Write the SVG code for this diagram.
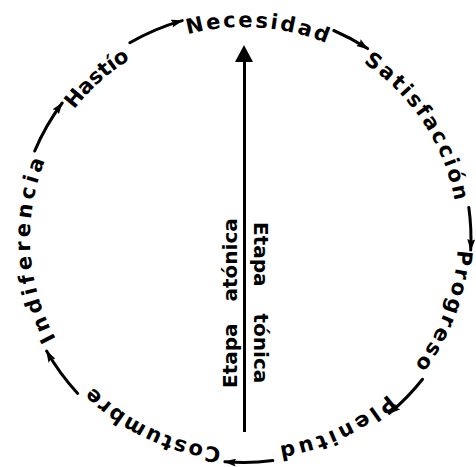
<svg xmlns="http://www.w3.org/2000/svg" width="476" height="467" viewBox="0 0 476 467">
<style>
.lbl{font-family:"DejaVu Sans","Liberation Sans",sans-serif;font-weight:bold;font-size:21px;fill:#000;}
.stage{font-family:"DejaVu Sans","Liberation Sans",sans-serif;font-weight:bold;font-size:20px;fill:#000;}
.arc{fill:none;stroke:#000;stroke-width:3;stroke-linecap:round;}
</style>
<defs>
<path id="ring" d="M 244 449 A 214 211 0 1 1 244 27 A 214 211 0 1 1 244 449"/>
<marker id="ah" viewBox="0 0 12 8" markerWidth="12" markerHeight="8" refX="11" refY="4" orient="auto" markerUnits="userSpaceOnUse">
<path d="M0,0 L12,4 L0,8 L2,4 z" fill="#000"/>
</marker>
</defs>
<rect width="476" height="467" fill="#fff"/>
<g id="connectors">
<path class="arc" marker-end="url(#ah)" d="M 34.7 151.0 A 227 227 0 0 1 62.2 103.0"/>
<path class="arc" marker-end="url(#ah)" d="M 129.8 42.8 A 227 227 0 0 1 182.2 20.6"/>
<path class="arc" marker-end="url(#ah)" d="M 333.8 30.5 A 227 227 0 0 1 367.6 48.6"/>
<path class="arc" marker-end="url(#ah)" d="M 468.8 207.4 A 227 227 0 0 1 470.7 250.1"/>
<path class="arc" marker-end="url(#ah)" d="M 422.5 379.3 A 227 227 0 0 1 389.3 413.4"/>
<path class="arc" marker-end="url(#ah)" d="M 272.8 460.6 A 224 224 0 0 1 224.9 461.7"/>
<path class="arc" marker-end="url(#ah)" d="M 77.7 393.5 A 227 227 0 0 1 46.6 351.1"/>
</g>
<g id="necesidad"><text class="lbl" text-anchor="middle" letter-spacing="2.4"><textPath href="#ring" startOffset="51.11%">Necesidad</textPath></text></g>
<g id="satisfaccion"><text class="lbl" text-anchor="middle" letter-spacing="2.4"><textPath href="#ring" startOffset="65.92%">Satisfacción</textPath></text></g>
<g id="progreso"><text class="lbl" text-anchor="middle" letter-spacing="2.6"><textPath href="#ring" startOffset="80.67%">Progreso</textPath></text></g>
<g id="plenitud"><text class="lbl" text-anchor="middle" letter-spacing="3.3"><textPath href="#ring" startOffset="92.89%">Plenitud</textPath></text></g>
<g id="costumbre"><text class="lbl" text-anchor="middle" letter-spacing="2"><textPath href="#ring" startOffset="7.22%">Costumbre</textPath></text></g>
<g id="indiferencia"><text class="lbl" text-anchor="middle" letter-spacing="3.9"><textPath href="#ring" startOffset="24.17%">Indiferencia</textPath></text></g>
<g id="hastio"><text class="lbl" text-anchor="middle" letter-spacing="0"><textPath href="#ring" startOffset="38.19%">Hastío</textPath></text></g>
<g id="axis">
<line x1="244.5" y1="60" x2="244.5" y2="432" stroke="#000" stroke-width="3"/>
<polygon points="244,45 235,62 253,62" fill="#000"/>
<text class="stage" transform="translate(237,388) rotate(-90)" word-spacing="15">Etapa atónica</text>
<text class="stage" transform="translate(254,222) rotate(90)" word-spacing="20">Etapa tónica</text>
</g>
</svg>
